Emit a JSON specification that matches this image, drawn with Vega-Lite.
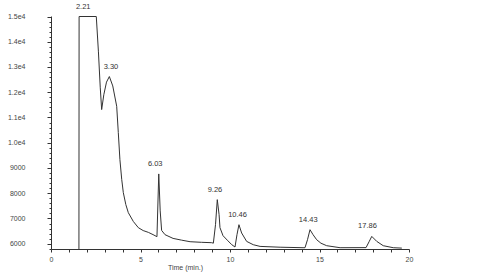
{
  "$schema": "https://vega.github.io/schema/vega-lite/v6.json",
  "autosize": "none",
  "width": 358,
  "height": 233,
  "padding": {"left": 51, "top": 16, "right": 91, "bottom": 30},
  "background": "white",
  "config": {
    "view": {"stroke": null},
    "axis": {
      "domainColor": "#333",
      "tickColor": "#333",
      "labelColor": "#444",
      "labelFont": "Liberation Sans",
      "labelFontSize": 7,
      "titleFont": "Liberation Sans",
      "titleFontSize": 7,
      "titleFontWeight": "normal",
      "titleColor": "#444",
      "grid": false,
      "labelOverlap": false
    }
  },
  "datasets": {
    "trace": [
      {"t": 1.56, "v": 5790},
      {"t": 1.57, "v": 15000},
      {"t": 2.53, "v": 15000},
      {"t": 2.65, "v": 13600},
      {"t": 2.75, "v": 12200},
      {"t": 2.83, "v": 11313},
      {"t": 2.95, "v": 11900},
      {"t": 3.1, "v": 12400},
      {"t": 3.26, "v": 12622},
      {"t": 3.45, "v": 12250},
      {"t": 3.67, "v": 11444},
      {"t": 3.76, "v": 10400},
      {"t": 3.85, "v": 9331},
      {"t": 3.95, "v": 8550},
      {"t": 4.04, "v": 8022},
      {"t": 4.18, "v": 7550},
      {"t": 4.32, "v": 7229},
      {"t": 4.6, "v": 6880},
      {"t": 4.88, "v": 6634},
      {"t": 5.15, "v": 6520},
      {"t": 5.44, "v": 6448},
      {"t": 5.7, "v": 6360},
      {"t": 5.92, "v": 6278},
      {"t": 6.02, "v": 8764},
      {"t": 6.1, "v": 7300},
      {"t": 6.18, "v": 6527},
      {"t": 6.37, "v": 6357},
      {"t": 6.82, "v": 6210},
      {"t": 7.3, "v": 6140},
      {"t": 7.77, "v": 6079},
      {"t": 8.4, "v": 6055},
      {"t": 8.98, "v": 6040},
      {"t": 9.07, "v": 6020},
      {"t": 9.19, "v": 6753},
      {"t": 9.29, "v": 7745},
      {"t": 9.39, "v": 7150},
      {"t": 9.44, "v": 6634},
      {"t": 9.61, "v": 6317},
      {"t": 9.85, "v": 6139},
      {"t": 10.1, "v": 5960},
      {"t": 10.28, "v": 5869},
      {"t": 10.39, "v": 6357},
      {"t": 10.5, "v": 6753},
      {"t": 10.65, "v": 6424},
      {"t": 10.93, "v": 6091},
      {"t": 11.3, "v": 5960},
      {"t": 11.68, "v": 5893},
      {"t": 12.8, "v": 5861},
      {"t": 14.08, "v": 5841},
      {"t": 14.19, "v": 5841},
      {"t": 14.33, "v": 6159},
      {"t": 14.47, "v": 6555},
      {"t": 14.64, "v": 6357},
      {"t": 14.84, "v": 6159},
      {"t": 15.08, "v": 6020},
      {"t": 15.4, "v": 5921},
      {"t": 16.15, "v": 5841},
      {"t": 17.6, "v": 5845},
      {"t": 17.77, "v": 6079},
      {"t": 17.92, "v": 6289},
      {"t": 18.2, "v": 6091},
      {"t": 18.56, "v": 5921},
      {"t": 19.12, "v": 5841},
      {"t": 19.6, "v": 5825}
    ],
    "peaks": [
      {"label": "2.21", "t": 1.8, "v": 15000},
      {"label": "3.30", "t": 3.35, "v": 12622},
      {"label": "6.03", "t": 5.82, "v": 8764},
      {"label": "9.26", "t": 9.16, "v": 7745},
      {"label": "10.46", "t": 10.42, "v": 6753},
      {"label": "14.43", "t": 14.37, "v": 6555},
      {"label": "17.86", "t": 17.68, "v": 6289}
    ]
  },
  "layer": [
    {
      "data": {"name": "trace"},
      "mark": {"type": "line", "color": "#333", "strokeWidth": 1, "clip": false},
      "encoding": {
        "x": {
          "field": "t",
          "type": "quantitative",
          "scale": {"domain": [0, 20], "nice": false, "zero": false},
          "axis": {
            "values": [0,1,2,3,4,5,6,7,8,9,10,11,12,13,14,15,16,17,18,19,20],
            "tickCount": 200,
            "labelExpr": "datum.value % 5 === 0 ? format(datum.value, 'd') : ''",
            "tickSize": 3,
            "labelPadding": 3,
            "labelDx": -1.5,
            "labelFlush": false,
            "labelOverlap": false,
            "title": "Time (min.)",
            "titleX": 134,
            "titleY": 18,
            "titleAlign": "center",
            "titleBaseline": "middle"
          }
        },
        "y": {
          "field": "v",
          "type": "quantitative",
          "scale": {"domain": [5790, 15020], "nice": false, "zero": false},
          "axis": {
            "values": [5800,6000,6200,6400,6600,6800,7000,7200,7400,7600,7800,8000,8200,8400,8600,8800,9000,9200,9400,9600,9800,10000,10200,10400,10600,10800,11000,11200,11400,11600,11800,12000,12200,12400,12600,12800,13000,13200,13400,13600,13800,14000,14200,14400,14600,14800,15000],
            "tickCount": 200,
            "labelExpr": "datum.value % 1000 !== 0 ? '' : (datum.value >= 10000 ? format(datum.value / 10000, '.1f') + 'e4' : format(datum.value, 'd'))",
            "tickSize": {"condition": {"test": "datum.value % 1000 === 0", "value": 4}, "value": 2},
            "labelPadding": 22,
            "labelFlush": false,
            "labelOverlap": false,
            "title": null
          }
        }
      }
    },
    {
      "data": {"name": "peaks"},
      "mark": {"type": "text", "font": "Liberation Sans", "fontSize": 7.5, "color": "#333", "baseline": "bottom", "dy": -6},
      "encoding": {
        "x": {"field": "t", "type": "quantitative"},
        "y": {"field": "v", "type": "quantitative"},
        "text": {"field": "label"}
      }
    }
  ]
}
